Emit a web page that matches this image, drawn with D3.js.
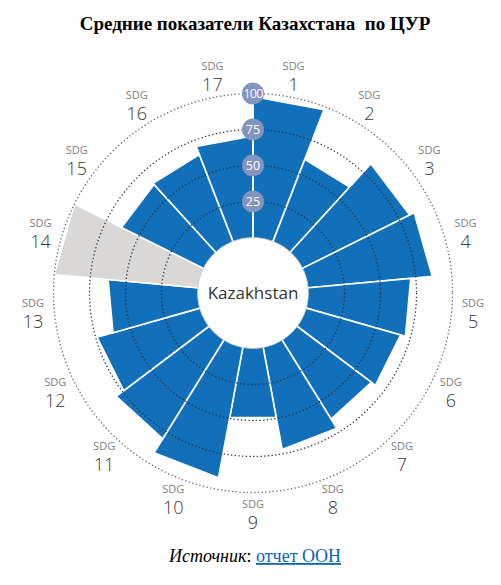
<!DOCTYPE html>
<html lang="ru">
<head>
    <meta charset="UTF-8">
    <title>SDG Kazakhstan</title>
    <style>
        body { margin: 0; background: #fff; }
        svg { display: block; }
        .title { font-family: "Liberation Serif", "Times New Roman", serif; font-weight: bold; font-size: 19px; }
        .source { font-family: "Liberation Serif", "Times New Roman", serif; font-size: 18px; }
        .lbl { font-family: "Open Sans", "Noto Sans", sans-serif; }
    </style>
</head>
<body>
<svg id="chart" width="501" height="585"></svg>

<script src="https://cdn.jsdelivr.net/npm/d3@7"></script>
<script>
    // SDG goals and Kazakhstan's score (0-100); null = no data (SDG 14)
    const goals = ["1","2","3","4","5","6","7","8","9","10","11","12","13","14","15","16","17"]
    const scores = [98, 61, 83, 86.5, 71.5, 68, 64.5, 72, 49.5, 92, 80.5, 74, 62.5, null, 63.5, 64.5, 70.5]
    const ticks = [25, 50, 75, 100]

    const svg = d3.select("#chart")
    const cx = 253, cy = 293
    const innerR = 55.5, outerR = 199.5

    svg.append("text")
        .attr("class", "title")
        .attr("x", 255).attr("y", 30)
        .attr("text-anchor", "middle")
        .style("white-space", "pre")
        .text("Средние показатели Казахстана  по ЦУР")

    let g = svg.append("g").attr("transform", "translate(" + cx + "," + cy + ")")

    let angle = d3.scaleBand()
        .domain(goals)
        .range([0, 2 * Math.PI])
        .padding(0)

    let r = d3.scaleLinear()
        .domain([0, 100])
        .range([innerR, outerR])

    // bars with straight outer edges
    let wedge = d3.lineRadial()
        .angle(d => d[0])
        .radius(d => d[1])
        .curve(d3.curveLinearClosed)

    g.selectAll("path.bar")
        .data(goals)
        .join("path")
        .attr("class", "bar")
        .attr("d", (d, i) => {
            let a0 = angle(d), a1 = a0 + angle.bandwidth()
            let v = scores[i] == null ? 100 : scores[i]
            return wedge([[a0, innerR - 2], [a0, r(v)], [a1, r(v)], [a1, innerR - 2]])
        })
        .attr("fill", (d, i) => scores[i] == null ? "#d9d8d6" : "#1170b9")
        .attr("stroke", "#fff")
        .attr("stroke-width", 1.6)

    // dotted grid circles
    g.selectAll("circle.grid")
        .data(ticks)
        .join("circle")
        .attr("class", "grid")
        .attr("r", d => r(d))
        .attr("fill", "none")
        .attr("stroke", d => d == 100 ? "#666" : "#2a3340")
        .attr("stroke-width", 1.3)
        .attr("stroke-dasharray", "1.3,2.4")

    // axis line up to 100
    g.append("line")
        .attr("x1", 0).attr("y1", -innerR)
        .attr("x2", 0).attr("y2", -r(100))
        .attr("stroke", "#fff")
        .attr("stroke-width", 1.6)

    // centre disc
    g.append("circle")
        .attr("r", innerR)
        .attr("fill", "#fff")
        .attr("stroke", "#c8c8c8")
        .attr("stroke-width", 0.8)

    g.append("text")
        .attr("class", "lbl")
        .attr("y", 6)
        .attr("text-anchor", "middle")
        .attr("font-size", 17)
        .attr("fill", "#333")
        .text("Kazakhstan")

    // tick bubbles
    let tk = g.selectAll("g.tick")
        .data(ticks)
        .join("g")
        .attr("class", "tick")
        .attr("transform", d => "translate(0," + (-r(d)) + ")")

    tk.append("circle")
        .attr("r", 11)
        .attr("fill", "#8394bf")

    tk.append("text")
        .attr("class", "lbl")
        .attr("y", 4.5)
        .attr("text-anchor", "middle")
        .attr("font-size", 12.5)
        .attr("letter-spacing", d => d == 100 ? -0.8 : 0)
        .attr("fill", "#fff")
        .text(d => d)

    // SDG labels
    let labelR = 221
    let lab = g.selectAll("g.sdg")
        .data(goals)
        .join("g")
        .attr("class", "sdg")
        .attr("transform", d => {
            let a = angle(d) + angle.bandwidth() / 2
            return "translate(" + (labelR * Math.sin(a)) + "," + (-labelR * Math.cos(a)) + ")"
        })

    lab.append("text")
        .attr("class", "lbl")
        .attr("y", -6)
        .attr("text-anchor", "middle")
        .attr("font-size", 11)
        .attr("fill", "#808080")
        .text("SDG")

    lab.append("text")
        .attr("class", "lbl")
        .attr("y", 15)
        .attr("text-anchor", "middle")
        .attr("font-size", 18)
        .attr("font-weight", 300)
        .attr("fill", "#3a3a3a")
        .text(d => d)

    // source line
    let src = svg.append("text")
        .attr("class", "source")
        .attr("x", 255).attr("y", 562)
        .attr("text-anchor", "middle")

    src.append("tspan").attr("font-style", "italic").text("Источник")
    src.append("tspan").text(": ")
    src.append("tspan")
        .attr("fill", "#0563c1")
        .attr("text-decoration", "underline")
        .text("отчет ООН")
</script>
</body>
</html>
